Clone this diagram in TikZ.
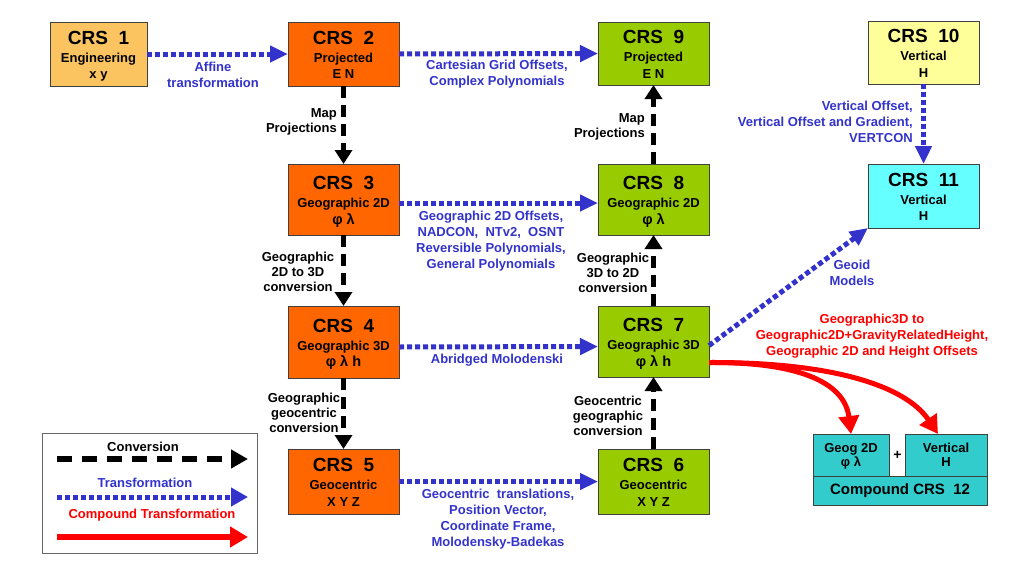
\documentclass[tikz,border=0pt]{standalone}
\usepackage{fontspec}
\setmainfont{Liberation Sans}
\usetikzlibrary{arrows.meta,calc}
\definecolor{lorange}{RGB}{251,196,96}
\definecolor{dorange}{RGB}{255,102,0}
\definecolor{lgreen}{RGB}{153,204,0}
\definecolor{lyellow}{RGB}{255,255,153}
\definecolor{lcyan}{RGB}{102,255,255}
\definecolor{teal2}{RGB}{51,204,204}
\definecolor{tblue}{RGB}{51,51,204}
\definecolor{cred}{RGB}{255,0,0}
\tikzset{
  crsbox/.style={draw=black!75, line width=0.9pt, rectangle, inner sep=0pt, outer sep=0pt},
  ttl/.style={font=\fontsize{19}{20}\selectfont\bfseries, inner sep=0pt, anchor=base},
  sub/.style={font=\fontsize{13}{15}\selectfont\bfseries, inner sep=0pt, anchor=base},
  sym/.style={font=\fontsize{14.5}{15}\selectfont\bfseries, inner sep=0pt, anchor=base},
  blbl/.style={font=\fontsize{13}{16}\selectfont\bfseries, text=tblue, align=center, inner sep=0pt},
  klbl/.style={font=\fontsize{13}{15}\selectfont\bfseries, text=black, align=center, inner sep=0pt},
  rlbl/.style={font=\fontsize{13}{16}\selectfont\bfseries, text=cred, align=center, inner sep=0pt},
  conv/.style={draw=black, line width=4.3pt, dash pattern=on 12pt off 7pt, -{Triangle[length=14pt,width=17pt]}},
  trans/.style={draw=tblue, line width=5pt, dash pattern=on 5pt off 3pt, -{Triangle[length=18pt,width=16pt]}},
  comp/.style={draw=cred, line width=5pt, -{Triangle[length=18pt,width=20pt]}},
  legconv/.style={draw=black, line width=5.5pt, dash pattern=on 15pt off 10pt, -{Triangle[length=17pt,width=18pt]}},
}
\newcommand\crsnode[9]{%
  \node[crsbox, fill=#6, minimum width=#4pt, minimum height=#5pt] (#1) at (#2,#3) {};
  \node[ttl] (#1t) at ([yshift=10pt]#1.center) {#7};
  \node[sub] (#1s) at ([yshift=-8pt]#1.center) {#8};
  \node[sym] (#1y) at ([yshift=-24.5pt]#1.center) {#9};
}
\begin{document}
\begin{tikzpicture}[x=1pt,y=-1pt]
\useasboundingbox[fill=white] (0,0) rectangle (1023,570);

% boxes
\crsnode{c1}{98.5}{54}{97}{64}{lorange}{CRS~~1}{Engineering}{\fontsize{13}{15}\selectfont x y}
\crsnode{c2}{343.5}{54}{111}{64}{dorange}{CRS~~2}{Projected}{\fontsize{13}{15}\selectfont E N}
\crsnode{c9}{653.5}{53.5}{111}{63}{lgreen}{CRS~~9}{Projected}{\fontsize{13}{15}\selectfont E N}
\crsnode{c10}{923.5}{52.5}{111}{63}{lyellow}{CRS~~10}{Vertical}{\fontsize{13}{15}\selectfont H}
\crsnode{c11}{923.5}{196}{111}{64}{lcyan}{CRS~~11}{Vertical}{\fontsize{13}{15}\selectfont H}
\crsnode{c3}{343.5}{199.5}{111}{71}{dorange}{CRS~~3}{Geographic 2D}{φ λ}
\crsnode{c8}{653.5}{199.5}{111}{71}{lgreen}{CRS~~8}{Geographic 2D}{φ λ}
\crsnode{c4}{343.5}{342}{111}{72}{dorange}{CRS~~4}{Geographic 3D}{φ λ h}
\crsnode{c7}{653.5}{341.5}{111}{71}{lgreen}{CRS~~7}{Geographic 3D}{φ λ h}
\crsnode{c5}{343.5}{481.5}{111}{65}{dorange}{CRS~~5}{Geocentric}{\fontsize{13}{15}\selectfont X Y Z}
\crsnode{c6}{653.5}{481.5}{111}{65}{lgreen}{CRS~~6}{Geocentric}{\fontsize{13}{15}\selectfont X Y Z}

% compound CRS 12
\node[crsbox, fill=teal2, minimum width=76pt, minimum height=42pt] (g2d) at (851,455) {};
\node[sub] (g2dt) at ([yshift=2.5pt]g2d.center) {Geog 2D};
\node[sub] (g2dy) at ([yshift=-11.5pt]g2d.center) {φ λ};
\node[crsbox, fill=teal2, minimum width=82pt, minimum height=42pt] (vrt) at (946,455) {};
\node[sub] (vrtt) at ([yshift=2.5pt]vrt.center) {Vertical};
\node[sub] (vrty) at ([yshift=-11.5pt]vrt.center) {H};
\node[crsbox, fill=teal2, minimum width=174pt, minimum height=29pt,
      font=\fontsize{15}{17}\selectfont\bfseries] (cmp) at (900,490.5) {Compound CRS~~12};
\node[font=\fontsize{14}{16}\selectfont\bfseries, inner sep=0pt] (plus) at (897.5,455) {+};

% transformations (blue dotted)
\draw[trans] (c1.east) -- (c2.west);
\draw[trans] (c2.east) -- (c9.west);
\draw[trans] ([yshift=-3.5pt]c3.east) -- ([yshift=-3.5pt]c8.west);
\draw[trans] ([yshift=-5pt]c4.east) -- ([yshift=-5pt]c7.west);
\draw[trans] (c5.east) -- (c6.west);
\draw[trans] (c10.south) -- (c11.north);
\draw[trans] ([yshift=-4pt]c7.east) -- (c11.south west);

% conversions (black dashed)
\draw[conv] (c2.south) -- (c3.north);
\draw[conv] (c3.south) -- (c4.north);
\draw[conv] (c4.south) -- (c5.north);
\draw[conv] (c8.north) -- (c9.south);
\draw[conv] (c7.north) -- (c8.south);
\draw[conv] (c6.north) -- (c7.south);

% compound transformation (red)
\draw[comp] ([yshift=-21pt]c7.east) .. controls (805,362) and (845,385) .. (g2d.north);
\draw[comp] ([yshift=-21pt]c7.east) .. controls (830,362) and (905,385) .. ([xshift=-8pt]vrt.north);

% labels
\node[blbl] (l12) at (213,74.5) {Affine\\transformation};
\node[blbl] (l29) at (497,74) {Cartesian Grid Offsets,\\Complex Polynomials};
\node[blbl] (l38) at (491,241) {Geographic 2D Offsets,\\NADCON,~~NTv2,~~OSNT\\Reversible Polynomials,\\General Polynomials};
\node[blbl] (l47) at (497,360) {Abridged Molodenski};
\node[blbl] (l56) at (498,519) {Geocentric~~translations,\\Position Vector,\\Coordinate Frame,\\Molodensky-Badekas};
\node[blbl, align=right, anchor=east] (l1011) at (913,121.5) {Vertical Offset,\\Vertical Offset and Gradient,\\VERTCON};
\node[blbl] (l711) at (852,272.5) {Geoid\\Models};
\node[rlbl] (l712) at (872,336) {Geographic3D to\\Geographic2D+GravityRelatedHeight,\\Geographic 2D and Height Offsets};

\node[klbl, align=right, anchor=east] (l23) at (337,122) {Map\\Projections};
\node[klbl] (l34) at (298,271.5) {Geographic\\2D to 3D\\conversion};
\node[klbl] (l45) at (304,413) {Geographic\\geocentric\\conversion};
\node[klbl, align=right, anchor=east] (l89) at (645,127) {Map\\Projections};
\node[klbl] (l78) at (613,272.5) {Geographic\\3D to 2D\\conversion};
\node[klbl] (l67) at (608,416) {Geocentric\\geographic\\conversion};

% legend
\node[draw=black!60, line width=0.8pt, minimum width=215pt, minimum height=120pt, inner sep=0pt] (leg) at (149.5,493) {};
\node[klbl] (legc) at (143,447) {Conversion};
\coordinate (lc1) at (57,459);
\coordinate (lc2) at (248,459);
\draw[legconv] (lc1) -- (lc2);
\node[blbl] (legt) at (145,483) {Transformation};
\coordinate (lt1) at (57,497);
\coordinate (lt2) at (248,497);
\draw[trans, -{Triangle[length=17pt,width=18pt]}] (lt1) -- (lt2);
\node[rlbl] (legr) at (152,515) {Compound Transformation};
\coordinate (lr1) at (57,537);
\coordinate (lr2) at (248,537);
\draw[comp, line width=5.5pt] (lr1) -- (lr2);
\end{tikzpicture}
\end{document}
